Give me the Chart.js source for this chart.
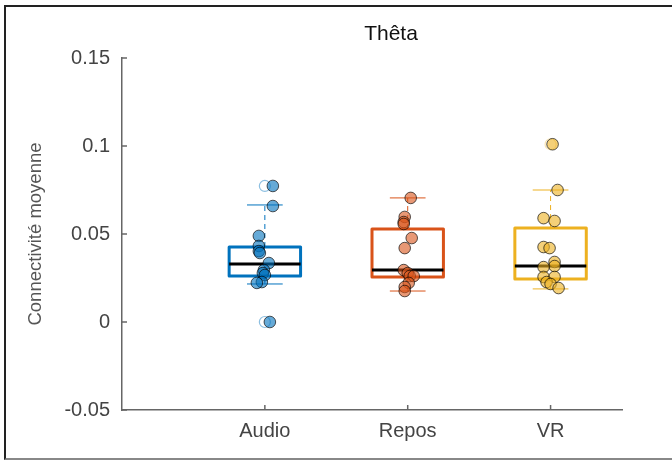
<!DOCTYPE html>
<html>
<head>
<meta charset="utf-8">
<script src="https://cdn.jsdelivr.net/npm/chart.js@4"></script>
<style>
  body { margin: 0; background: #fff; }
  #wrap { position: relative; width: 672px; height: 460px; }
  #frame {
    position: absolute; left: 4px; top: 5px; width: 700px; height: 451px;
    border-top: 2px solid #222; border-left: 2px solid #222; border-bottom: 2px solid #888;
    pointer-events: none;
  }
</style>
</head>
<body>
<div id="wrap">
  <canvas id="thetaChart" width="672" height="460"></canvas>
  <div id="frame"></div>
</div>
<script>
const categories = ["Audio", "Repos", "VR"];
const boxColors = ["#0072BD", "#D95319", "#EDB120"];
const pointFills = ["rgba(0,114,189,0.6)", "rgba(217,83,25,0.6)", "rgba(237,177,32,0.6)"];
const outlierColors = ["rgba(0,114,189,0.45)", "rgba(217,83,25,0.45)", "rgba(237,177,32,0.35)"];

// box stats
const q1Values = [0.0261, 0.0256, 0.0244];
const medianValues = [0.0330, 0.0295, 0.0318];
const q3Values = [0.0426, 0.0528, 0.0534];
const whiskerLow = [0.0216, 0.0176, 0.0188];
const whiskerHigh = [0.0665, 0.0705, 0.0750];

// boxplot outlier markers (hollow)
const outliers = [[0.0773, 0], [], [0.101]];

// individual subjects and their horizontal jitter
const audioValues = [0.0773, 0.0659, 0.0489, 0.0432, 0.0403, 0.0392, 0.0335, 0.0295, 0.0278, 0.0267, 0.0227, 0.0222, 0];
const audioJitter = [0.056, 0.056, -0.042, -0.042, -0.042, -0.035, 0.028, -0.007, -0.014, 0, -0.021, -0.056, 0.035];
const reposValues = [0.0705, 0.0597, 0.0568, 0.0557, 0.0477, 0.042, 0.0295, 0.0278, 0.0261, 0.0261, 0.0222, 0.0199, 0.0176];
const reposJitter = [0.021, -0.021, -0.028, -0.028, 0.028, -0.021, -0.028, 0, 0.014, 0.042, 0.007, -0.021, -0.021];
const vrValues = [0.101, 0.075, 0.059, 0.0574, 0.0426, 0.042, 0.0341, 0.0318, 0.0312, 0.0256, 0.0256, 0.0227, 0.0216, 0.0193];
const vrJitter = [0.014, 0.049, -0.049, 0.028, -0.049, -0.007, 0.028, 0.028, -0.049, -0.049, 0.028, -0.028, 0, 0.056];

const yTicks = [-0.05, 0, 0.05, 0.1, 0.15];
const titleText = "Thêta";
const yTitle = "Connectivité moyenne";

const groupValues = [audioValues, reposValues, vrValues];
const groupJitter = [audioJitter, reposJitter, vrJitter];

const halfBox = 0.25;
const halfCap = 0.125;

const datasets = [];
categories.forEach(function(cat, i) {
    const c = i + 1;
    const col = boxColors[i];
    const line = function(pts, extra) {
        return Object.assign({
            data: pts, showLine: true, pointRadius: 0, borderColor: col,
            borderWidth: 1, fill: false
        }, extra);
    };
    datasets.push(line([{x: c, y: q3Values[i]}, {x: c, y: whiskerHigh[i]}], {borderDash: [5, 4], order: 6}));
    datasets.push(line([{x: c, y: whiskerLow[i]}, {x: c, y: q1Values[i]}], {borderDash: [5, 4], order: 6}));
    datasets.push(line([{x: c - halfCap, y: whiskerHigh[i]}, {x: c + halfCap, y: whiskerHigh[i]}], {order: 6}));
    datasets.push(line([{x: c - halfCap, y: whiskerLow[i]}, {x: c + halfCap, y: whiskerLow[i]}], {order: 6}));
    datasets.push(line([
        {x: c - halfBox, y: q1Values[i]}, {x: c + halfBox, y: q1Values[i]},
        {x: c + halfBox, y: q3Values[i]}, {x: c - halfBox, y: q3Values[i]},
        {x: c - halfBox, y: q1Values[i]}
    ], {borderWidth: 3, borderJoinStyle: "round", order: 5}));
    datasets.push(line([{x: c - halfBox, y: medianValues[i]}, {x: c + halfBox, y: medianValues[i]}],
        {borderColor: "#000", borderWidth: 3, order: 4}));
    datasets.push({
        data: outliers[i].map(v => ({x: c, y: v})),
        showLine: false, pointRadius: 5.5, pointBorderWidth: 1.2,
        pointBorderColor: outlierColors[i], pointBackgroundColor: "rgba(0,0,0,0)", order: 3
    });
    datasets.push({
        data: groupValues[i].map((v, k) => ({x: c + groupJitter[i][k], y: v})),
        showLine: false, pointRadius: 5.8, pointBorderWidth: 1,
        pointBorderColor: "rgba(0,0,0,0.65)", pointBackgroundColor: pointFills[i], order: 1
    });
});

const extras = {
    id: "extras",
    afterDraw(chart) {
        const ctx = chart.ctx;
        const area = chart.chartArea;
        const x = chart.scales.x, y = chart.scales.y;
        ctx.save();
        ctx.strokeStyle = "#666";
        ctx.lineWidth = 1.5;
        y.ticks.forEach(function(t) {
            const py = y.getPixelForValue(t.value);
            ctx.beginPath(); ctx.moveTo(area.left, py); ctx.lineTo(area.left + 5, py); ctx.stroke();
        });
        x.ticks.forEach(function(t) {
            const px = x.getPixelForValue(t.value);
            ctx.beginPath(); ctx.moveTo(px, area.bottom); ctx.lineTo(px, area.bottom - 5); ctx.stroke();
        });
        ctx.fillStyle = "#111";
        ctx.font = '21px "Liberation Sans", Arial, sans-serif';
        ctx.textAlign = "center";
        ctx.textBaseline = "alphabetic";
        ctx.fillText(titleText, 391, 40);
        ctx.restore();
    }
};

new Chart("thetaChart", {
    type: "scatter",
    data: { datasets: datasets },
    options: {
        responsive: false,
        animation: false,
        devicePixelRatio: 1,
        layout: { padding: { top: 58, right: 50, left: 0, bottom: 0 } },
        plugins: { legend: { display: false }, tooltip: { enabled: false }, title: { display: false } },
        scales: {
            x: {
                type: "linear", min: 0, max: 3.5,
                afterBuildTicks: function(scale) { scale.ticks = categories.map((c, i) => ({value: i + 1})); },
                afterFit: function(scale) { scale.height = 50; },
                ticks: {
                    callback: function(v) { return categories[v - 1]; },
                    font: { family: "Liberation Sans", size: 20 }, color: "#444", padding: 9
                },
                grid: { display: false, drawTicks: false },
                border: { display: true, color: "#666", width: 1.5 }
            },
            y: {
                min: -0.05, max: 0.15,
                afterBuildTicks: function(scale) { scale.ticks = yTicks.map(v => ({value: v})); },
                afterFit: function(scale) { scale.width = 122; },
                ticks: {
                    callback: function(v) { return String(+v.toFixed(2)); },
                    font: { family: "Liberation Sans", size: 20 }, color: "#444", padding: 12
                },
                grid: { display: false, drawTicks: false },
                border: { display: true, color: "#666", width: 1.5 },
                title: {
                    display: true, text: yTitle, color: "#555",
                    font: { family: "Liberation Sans", size: 18.5 }, padding: { top: 25, bottom: 0 }
                }
            }
        }
    },
    plugins: [extras]
});
</script>
</body>
</html>
